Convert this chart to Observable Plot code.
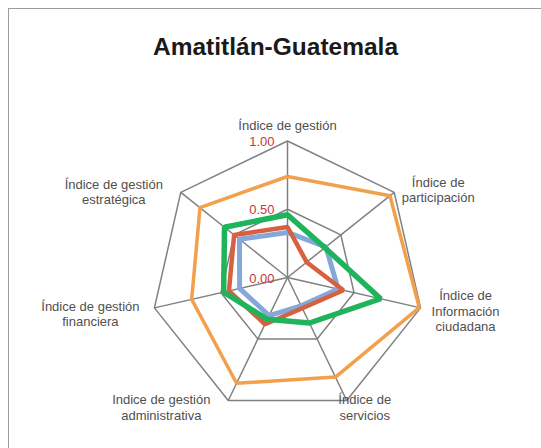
<!DOCTYPE html>
<html>
<head>
<meta charset="utf-8">
<script src="https://cdn.jsdelivr.net/npm/d3@7"></script>
<script src="https://cdn.jsdelivr.net/npm/@observablehq/plot@0.6"></script>
<style>
  html, body { margin: 0; padding: 0; background: #fff; overflow: hidden; width: 541px; height: 448px; }
  #wrap { position: relative; width: 541px; height: 448px; }
  #frame { position: absolute; left: 8px; top: 8px; width: 600px; height: 500px; border: 1.5px solid #9c9c9c; box-sizing: border-box; }
  #title { position: absolute; left: 0; width: 551px; top: 33px; text-align: center; font-family: "Liberation Sans", Arial, Helvetica, sans-serif; font-weight: bold; font-size: 24.5px; color: #1a1a1a; line-height: 28px; }
  #chart { position: absolute; left: 0; top: 0; }
</style>
</head>
<body>
<div id="wrap">
  <div id="frame"></div>
  <div id="chart"></div>
  <div id="title">Amatitlán-Guatemala</div>
</div>
<script>
// ---- data ----
const axisLabels = [
  "Índice de gestión",
  "Índice de\nparticipación",
  "Índice de\nInformación\nciudadana",
  "Índice de\nservicios",
  "Indice de gestión\nadministrativa",
  "Índice de gestión\nfinanciera",
  "Índice de gestión\nestratégica"
];
const seriesNames = ["Serie 1", "Serie 2", "Serie 3", "Serie 4"];
const serie1 = [0.74, 0.96, 0.99, 0.81, 0.86, 0.72, 0.82]; // orange
const serie2 = [0.33, 0.36, 0.38, 0.23, 0.31, 0.36, 0.45]; // blue
const serie3 = [0.37, 0.18, 0.42, 0.25, 0.38, 0.44, 0.50]; // red
const serie4 = [0.46, 0.35, 0.70, 0.37, 0.34, 0.48, 0.59]; // green
const tickValues = [0, 0.5, 1];
const tickLabels = ["0.00", "0.50", "1.00"];
const gridLevels = [0.5, 1];

// ---- styling / layout ----
const seriesColors = ["#f2a04c", "#84a8da", "#d6603f", "#1fb45b"];
const seriesWidths = [3.5, 5, 4.5, 5.5];
const labelOffsets = [[0, -16], [44, -3], [45, 3], [18, 6.5], [-67, 6.5], [-64, 5.5], [-67, -1]];

const n = axisLabels.length;
const ang = i => (2 * Math.PI * i) / n;
const px = (i, v) => v * Math.sin(ang(i));
const py = (i, v) => v * Math.cos(ang(i));

const cx = 287, cy = 277, R = 136.5;

const gridData = gridLevels.flatMap(l => axisLabels.map((a, i) => ({level: l, x: px(i, l), y: py(i, l)})));
const spokes = axisLabels.map((a, i) => ({x1: 0, y1: 0, x2: px(i, 1), y2: py(i, 1)}));
const allSeries = [serie1, serie2, serie3, serie4];
const seriesData = allSeries.map((vals, s) => vals.map((v, i) => ({name: seriesNames[s], x: px(i, v), y: py(i, v)})));
const ticks = tickValues.map((v, k) => ({x: 0, y: v, label: tickLabels[k]}));

const font = '"Liberation Sans", Arial, Helvetica, sans-serif';

const marks = [
  Plot.line(gridData, {x: "x", y: "y", z: "level", curve: "linear-closed", stroke: "#808080", strokeWidth: 1.5}),
  Plot.link(spokes, {x1: "x1", y1: "y1", x2: "x2", y2: "y2", stroke: "#808080", strokeWidth: 1.5}),
  ...seriesData.map((d, s) => Plot.line(d, {x: "x", y: "y", curve: "linear-closed", stroke: seriesColors[s], strokeWidth: seriesWidths[s], strokeLinejoin: "miter"})),
  Plot.text(ticks, {x: "x", y: "y", text: "label", textAnchor: "end", dx: -13, dy: 1, fill: "#c8363c", fontSize: 13, fontFamily: font}),
  ...axisLabels.map((lab, i) => Plot.text([lab], {
    x: () => px(i, 1), y: () => py(i, 1), text: d => d,
    dx: labelOffsets[i][0], dy: labelOffsets[i][1],
    textAnchor: "middle", lineAnchor: "middle", lineHeight: 1.2,
    fill: "#505050", fontSize: 13, fontFamily: font
  }))
];

const chart = Plot.plot({
  width: 541,
  height: 448,
  margin: 0,
  x: {domain: [-1, 1], range: [cx - R, cx + R], axis: null},
  y: {domain: [-1, 1], range: [cy + R, cy - R], axis: null},
  style: {background: "transparent", fontFamily: font},
  marks
});
document.getElementById("chart").appendChild(chart);
</script>
</body>
</html>
